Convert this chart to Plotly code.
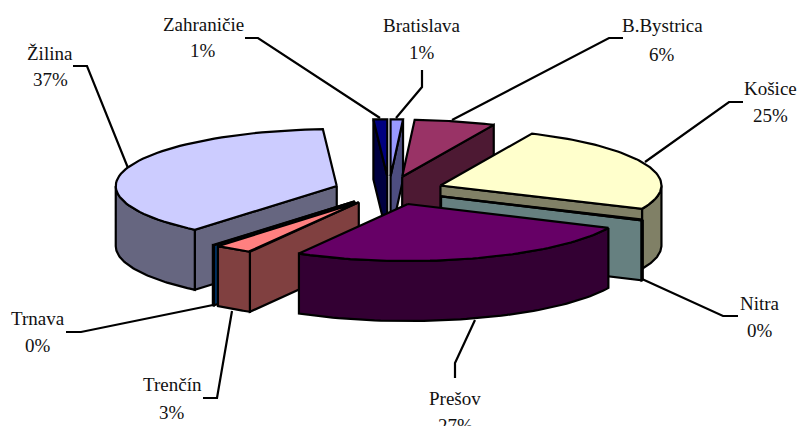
import numpy as np
import plotly.graph_objects as go

# clockwise from 12 o'clock, as the slices sit in the pie
regions = ["Bratislava", "B.Bystrica", "Košice", "Nitra", "Prešov", "Trenčín", "Trnava", "Žilina", "Zahraničie"]
shares = [0.9, 5.9, 24.9, 0.2, 26.3, 2.8, 0.1, 37.9, 1.0]
share_labels = ["1%", "6%", "25%", "0%", "27%", "3%", "0%", "37%", "1%"]
top_colors = ["#9999FF", "#993366", "#FFFFCC", "#CCFFFF", "#660066", "#FF8080", "#0066CC", "#CCCCFF", "#000080"]
wall_colors = ["#4D4D80", "#4D1933", "#808066", "#668080", "#330033", "#804040", "#003366", "#666680", "#000040"]

# back to front
draw_order = ["Zahraničie", "Bratislava", "B.Bystrica", "Žilina", "Trnava", "Trenčín", "Košice", "Nitra", "Prešov"]

CX, CY = 389, 190.5
RX, RY = 221, 57
EXPLODE = 55
DEPTH = 60
LINE = 2.2

# the original has some perspective, front slices sit a bit further right
nudge = {"Prešov": 2, "Trenčín": 1, "Trnava": 1, "Nitra": 2}

label_pos = {
    "Zahraničie": (203, 24, 50),
    "Bratislava": (422, 25, 52),
    "B.Bystrica": (662, 25, 54),
    "Košice": (770, 88, 115),
    "Nitra": (760, 303, 330),
    "Prešov": (455, 398, 425),
    "Trenčín": (172, 384, 412),
    "Trnava": (38, 318, 345),
    "Žilina": (50, 53, 79),
}
leaders = {
    "Zahraničie": [(245, 38), (258, 38), (380, 118)],
    "Bratislava": [(422, 70), (422, 87), (396, 118)],
    "B.Bystrica": [(623, 38), (609, 38), (452, 120)],
    "Košice": [(743, 102), (729, 102), (645, 162)],
    "Nitra": [(738, 316), (723, 316), (642, 279)],
    "Prešov": [(455, 378), (455, 363), (475, 320)],
    "Trenčín": [(203, 398), (217, 398), (232, 311)],
    "Trnava": [(66, 332), (81, 332), (213, 305)],
    "Žilina": [(73, 66), (87, 66), (128, 168)],
}


def arc(ax, ay, a0, a1):
    t = np.radians(np.linspace(a0, a1, 60))
    return ax + RX * np.sin(t), ay - RY * np.cos(t)


def polygon(xs, ys, color):
    return go.Scatter(
        x=list(xs) + [xs[0]],
        y=list(ys) + [ys[0]],
        mode="lines",
        fill="toself",
        fillcolor=color,
        line=dict(color="black", width=LINE),
        hoverinfo="skip",
        showlegend=False,
    )


def slice_traces(a0, a1, top, wall, shift):
    mid = np.radians((a0 + a1) / 2)
    ax = CX + shift + EXPLODE * np.sin(mid)
    ay = CY - EXPLODE * RY / RX * np.cos(mid)
    out = []

    # straight walls, only the ones facing the viewer
    for a, visible in ((a0, np.sin(np.radians(a0)) < 0), (a1, np.sin(np.radians(a1)) > 0)):
        if visible:
            ex, ey = arc(ax, ay, a, a)
            out.append(polygon([ax, ex[0], ex[0], ax], [ay, ey[0], ey[0] + DEPTH, ay + DEPTH], wall))

    # curved wall on the front half
    lo, hi = max(a0, 90), min(a1, 270)
    if lo < hi:
        fx, fy = arc(ax, ay, lo, hi)
        out.append(polygon(np.r_[fx, fx[::-1]], np.r_[fy, fy[::-1] + DEPTH], wall))

    fx, fy = arc(ax, ay, a0, a1)
    out.append(polygon(np.r_[ax, fx], np.r_[ay, fy], top))
    return out


ends = np.cumsum(shares) / np.sum(shares) * 360
starts = np.r_[0, ends[:-1]]

fig = go.Figure()
for name in draw_order:
    i = regions.index(name)
    fig.add_traces(slice_traces(starts[i], ends[i], top_colors[i], wall_colors[i], nudge.get(name, 0)))

for name, pts in leaders.items():
    fig.add_trace(
        go.Scatter(
            x=[p[0] for p in pts],
            y=[p[1] for p in pts],
            mode="lines",
            line=dict(color="black", width=LINE),
            hoverinfo="skip",
            showlegend=False,
        )
    )

for name, label in zip(regions, share_labels):
    x, y1, y2 = label_pos[name]
    for text, y in ((name, y1), (label, y2)):
        fig.add_annotation(x=x, y=y, text=text, showarrow=False, xanchor="center", yanchor="middle")

fig.update_layout(
    width=797,
    height=426,
    margin=dict(l=0, r=0, t=0, b=0),
    paper_bgcolor="white",
    plot_bgcolor="white",
    font=dict(family="Liberation Serif", size=19, color="#111111"),
    xaxis=dict(range=[0, 797], visible=False),
    yaxis=dict(range=[426, 0], visible=False),
)

fig.write_html(
    "out.html",
    config={"displayModeBar": False},
    post_script="document.body.style.margin='0';document.documentElement.style.overflow='hidden';",
)
